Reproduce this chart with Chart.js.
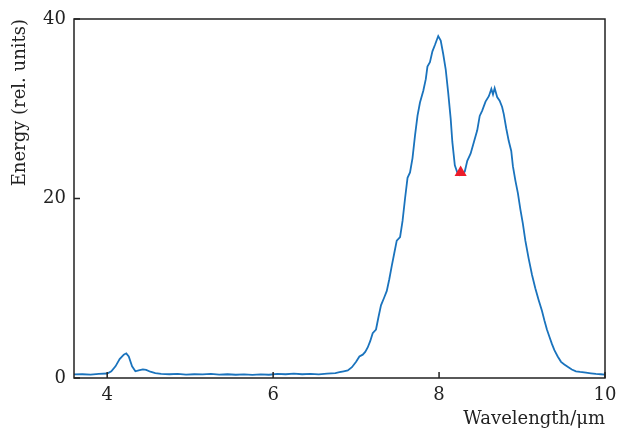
<!DOCTYPE html>
<html>
<head>
<meta charset="utf-8">
<title>Energy spectrum</title>
<script src="https://cdn.jsdelivr.net/npm/chart.js@4/dist/chart.umd.min.js"></script>
<style>
  html, body { margin: 0; padding: 0; background: #fff; }
  #wrap { width: 617px; height: 430px; }
</style>
</head>
<body>
<div id="wrap"><canvas id="spectrum-chart"></canvas></div>
<script>
// spectrum samples, wavelength in µm
const wavelength = [
  3.6, 3.7, 3.8, 3.9, 4.0, 4.05, 4.1, 4.15, 4.2, 4.23, 4.26, 4.3, 4.34, 4.38, 4.43, 4.47, 4.52, 4.58, 4.65,
  4.75, 4.85, 4.95, 5.05, 5.15, 5.25, 5.35, 5.45, 5.55, 5.65, 5.75, 5.85, 5.95, 6.05, 6.15, 6.25, 6.35,
  6.45, 6.55, 6.65, 6.75, 6.8, 6.85, 6.9, 6.95, 7.0, 7.04, 7.08, 7.11, 7.14, 7.17, 7.2, 7.24, 7.27, 7.3,
  7.34, 7.37, 7.4, 7.43, 7.46, 7.49, 7.53, 7.56, 7.59, 7.62, 7.65, 7.68, 7.71, 7.74, 7.77, 7.81, 7.84,
  7.86, 7.89, 7.92, 7.95, 7.97, 7.99, 8.02, 8.05, 8.08, 8.11, 8.14, 8.16, 8.19, 8.22, 8.25, 8.28, 8.31,
  8.34, 8.38, 8.42, 8.46, 8.49, 8.52, 8.56, 8.6, 8.63, 8.65, 8.67, 8.7, 8.73, 8.76, 8.78, 8.81, 8.84,
  8.87, 8.89, 8.92, 8.95, 8.98, 9.01, 9.04, 9.08, 9.12, 9.16, 9.2, 9.24, 9.27, 9.3, 9.33, 9.36, 9.39,
  9.43, 9.47, 9.51, 9.55, 9.6, 9.65, 9.7, 9.77, 9.83, 9.89, 9.95, 10.0
];
const energy = [
  0.40, 0.42, 0.38, 0.45, 0.50, 0.75, 1.3, 2.1, 2.6, 2.75, 2.4, 1.3, 0.75, 0.85, 0.95, 0.9, 0.7, 0.55, 0.45,
  0.42, 0.45, 0.38, 0.42, 0.40, 0.45, 0.38, 0.42, 0.36, 0.40, 0.35, 0.40, 0.36, 0.45, 0.42, 0.48, 0.42,
  0.45, 0.40, 0.48, 0.55, 0.65, 0.75, 0.85, 1.2, 1.8, 2.4, 2.6, 2.9, 3.4, 4.1, 5.0, 5.4, 6.8, 8.1,
  9.0, 9.7, 11.0, 12.5, 13.9, 15.3, 15.7, 17.5, 20.0, 22.3, 22.9, 24.5, 27.0, 29.2, 30.7, 32.0, 33.3,
  34.7, 35.2, 36.4, 37.1, 37.6, 38.1, 37.6, 36.1, 34.4, 31.8, 28.9, 26.3, 23.7, 22.9, 22.6, 22.7, 23.0,
  24.2, 25.0, 26.3, 27.6, 29.2, 29.8, 30.8, 31.4, 32.2, 31.6, 32.3, 31.3, 30.9, 30.2, 29.4, 27.8, 26.4,
  25.3, 23.6, 22.0, 20.6, 18.8, 17.2, 15.3, 13.3, 11.5, 10.0, 8.7, 7.5, 6.4, 5.4, 4.6, 3.8, 3.1,
  2.4, 1.8, 1.5, 1.25, 0.95, 0.75, 0.68, 0.6, 0.52, 0.45, 0.42, 0.38
];
// dip between the two peaks
const markerX = [8.26];
const markerY = [22.9];

const xTicks = [4, 6, 8, 10];
const yTicks = [0, 20, 40];

const ink = "#222";
const serif = "'DejaVu Serif', 'Liberation Serif', serif";

// frame around the plot plus short inward ticks
const frameTicks = {
  id: "frameTicks",
  afterDraw(chart) {
    const { ctx, chartArea: a, scales } = chart;
    ctx.save();
    ctx.strokeStyle = ink;
    ctx.lineWidth = 1.5;
    ctx.strokeRect(a.left, a.top, a.right - a.left, a.bottom - a.top);
    ctx.beginPath();
    xTicks.forEach((v) => {
      const px = scales.x.getPixelForValue(v);
      ctx.moveTo(px, a.bottom);
      ctx.lineTo(px, a.bottom - 6);
    });
    yTicks.forEach((v) => {
      const py = scales.y.getPixelForValue(v);
      ctx.moveTo(a.left, py);
      ctx.lineTo(a.left + 6, py);
    });
    ctx.stroke();
    ctx.restore();
  },
};

const ctx = document.getElementById("spectrum-chart").getContext("2d");
new Chart(ctx, {
  type: "line",
  data: {
    datasets: [
      {
        data: wavelength.map((x, i) => ({ x: x, y: energy[i] })),
        borderColor: "#1a73bd",
        borderWidth: 1.8,
        pointRadius: 0,
        tension: 0,
        fill: false,
        order: 2,
      },
      {
        // red marker sits on top of the curve
        data: markerX.map((x, i) => ({ x: x, y: markerY[i] })),
        showLine: false,
        pointStyle: "triangle",
        pointRadius: 7,
        backgroundColor: "#ec1c2a",
        borderColor: "#ec1c2a",
        borderWidth: 0,
        order: 1,
      },
    ],
  },
  options: {
    responsive: true,
    maintainAspectRatio: false,
    animation: false,
    layout: { padding: { top: 19, right: 12, left: 0, bottom: 0 } },
    plugins: {
      legend: { display: false },
      tooltip: { enabled: false },
    },
    scales: {
      x: {
        type: "linear",
        min: 3.6,
        max: 10,
        afterBuildTicks: (s) => { s.ticks = xTicks.map((v) => ({ value: v })); },
        afterFit: (s) => { s.height = 52; s.paddingLeft = 0; s.paddingRight = 0; },
        grid: { display: false, drawTicks: false },
        border: { display: false },
        ticks: {
          color: ink,
          padding: 7,
          maxRotation: 0,
          font: { family: serif, size: 18 },
        },
        title: {
          display: true,
          text: "Wavelength/μm",
          align: "end",
          color: ink,
          padding: 0,
          font: { family: serif, size: 18 },
        },
      },
      y: {
        min: 0,
        max: 40,
        afterBuildTicks: (s) => { s.ticks = yTicks.map((v) => ({ value: v })); },
        afterFit: (s) => { s.width = 74; },
        grid: { display: false, drawTicks: false },
        border: { display: false },
        ticks: {
          color: ink,
          padding: 8,
          font: { family: serif, size: 18 },
        },
        title: {
          display: true,
          text: "Energy (rel. units)",
          align: "end",
          color: ink,
          padding: { top: 10, bottom: 0 },
          font: { family: serif, size: 18 },
        },
      },
    },
  },
  plugins: [frameTicks],
});
</script>
</body>
</html>
